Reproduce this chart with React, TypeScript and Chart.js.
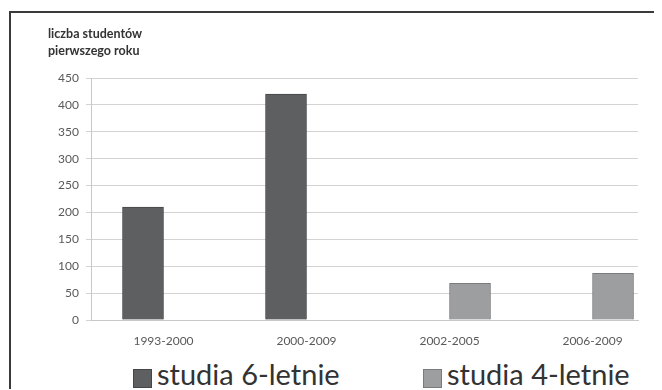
import React, { useEffect, useRef } from 'react';
import { Chart, registerables } from 'chart.js';

Chart.register(...registerables);

const categories = ['1993-2000', '2000-2009', '2002-2005', '2006-2009'];
const sixYear: (number | null)[] = [210, 420, null, null];
const fourYear: (number | null)[] = [null, null, 68, 87];
const seriesLabels = ['studia 6-letnie', 'studia 4-letnie'];
const seriesFill = ['#5e5f61', '#9d9ea0'];
const seriesEdge = ['#454648', '#7a7b7d'];
const titleLines = ['liczba studentów', 'pierwszego roku'];
const yMin = 0;
const yMax = 450;
const yStep = 50;
const xMin = -0.507;
const xMax = 3.318;

const FONT = 'Lato, "Open Sans", sans-serif';

export default function App() {
  const ref = useRef<HTMLCanvasElement | null>(null);

  useEffect(() => {
    if (!ref.current) return;
    const toPoints = (vals: (number | null)[]) =>
      categories.map((_, i) => ({ x: i, y: vals[i] }));
    const chart = new Chart(ref.current, {
      type: 'bar',
      data: {
        datasets: [
          {
            label: seriesLabels[0],
            data: toPoints(sixYear) as any,
            backgroundColor: seriesFill[0],
            borderColor: seriesEdge[0],
            borderWidth: 1,
            barThickness: 41,
          },
          {
            label: seriesLabels[1],
            data: toPoints(fourYear) as any,
            backgroundColor: seriesFill[1],
            borderColor: seriesEdge[1],
            borderWidth: 1,
            barThickness: 41,
          },
        ],
      },
      options: {
        animation: false,
        responsive: false,
        events: [],
        layout: { padding: { left: 37, right: 24, top: 0, bottom: 0 } },
        plugins: {
          legend: { display: false },
          tooltip: { enabled: false },
          title: {
            display: true,
            text: titleLines,
            align: 'start',
            color: '#333333',
            font: { family: FONT, size: 12.5, weight: 'bold', lineHeight: 1.36 },
            padding: { top: 12, bottom: 19 },
          },
        },
        scales: {
          x: {
            type: 'linear',
            offset: false,
            min: xMin,
            max: xMax,
            grid: { display: false, drawTicks: false },
            border: { display: true, color: '#c8c8c8', width: 1 },
            ticks: {
              stepSize: 1,
              includeBounds: false,
              padding: 14,
              color: '#595959',
              font: { family: FONT, size: 12 },
              callback: (v: any) =>
                Number.isInteger(v) && categories[v] !== undefined ? categories[v] : '',
            },
            afterFit: (s: any) => {
              s.height = 33;
            },
          },
          y: {
            min: yMin,
            max: yMax,
            ticks: {
              stepSize: yStep,
              padding: 7,
              color: '#595959',
              font: { family: FONT, size: 12 },
            },
            grid: { color: '#d3d3d3', tickLength: 5, lineWidth: 1 },
            border: { display: true, color: '#c8c8c8', width: 1 },
            afterFit: (s: any) => {
              s.width = 43;
            },
          },
        },
      },
    } as any);
    return () => chart.destroy();
  }, []);

  const legendLeft = [122, 412];

  return (
    <div style={{ paddingTop: 3, paddingLeft: 1 }}>
      <div
        style={{
          position: 'relative',
          width: 651,
          height: 376,
          borderTop: '2px solid #3a3a3a',
          borderLeft: '2px solid #3a3a3a',
          background: '#ffffff',
          overflow: 'hidden',
        }}
      >
        <canvas ref={ref} width={651} height={340} style={{ display: 'block' }} />
        {seriesLabels.map((lab, i) => (
          <div
            key={lab}
            style={{
              position: 'absolute',
              left: legendLeft[i],
              top: 345,
              display: 'flex',
              alignItems: 'center',
              fontFamily: FONT,
              fontSize: 29,
              lineHeight: '32px',
              color: '#333333',
              whiteSpace: 'nowrap',
            }}
          >
            <span
              style={{
                display: 'inline-block',
                width: 17,
                height: 17,
                background: seriesFill[i],
                border: `1px solid ${seriesEdge[i]}`,
                marginTop: 8,
                flex: 'none',
              }}
            />
            <span style={{ marginLeft: 5 }}>{lab}</span>
          </div>
        ))}
      </div>
    </div>
  );
}
